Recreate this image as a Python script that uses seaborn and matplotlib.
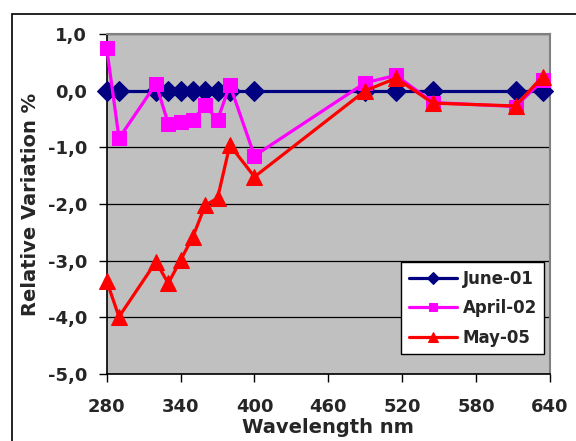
import matplotlib
matplotlib.use("Agg")
import matplotlib.pyplot as plt
import matplotlib.ticker as mticker
from matplotlib.patches import Rectangle
import seaborn as sns
import pandas as pd

# Wavelengths (nm) sampled in each campaign
wavelength = [280, 290, 320, 330, 340, 350, 360, 370, 380, 400, 490, 515, 545, 612, 634]

# Relative variation (%) with respect to the June-01 reference
june_01 = [0, 0, 0, 0, 0, 0, 0, 0, 0, 0, 0, 0, 0, 0, 0]
april_02 = [0.75, -0.84, 0.12, -0.58, -0.55, -0.52, -0.25, -0.52, 0.10, -1.15,
            0.14, 0.27, -0.21, -0.28, 0.18]
may_05 = [-3.36, -3.99, -3.02, -3.40, -2.99, -2.58, -2.02, -1.90, -0.96, -1.52,
          0.00, 0.22, -0.22, -0.27, 0.25]

series_names = ["June-01", "April-02", "May-05"]
series_values = [june_01, april_02, may_05]
colors = ["#000080", "#FF00FF", "#FF0000"]
markers = ["D", "s", "^"]
marker_sizes = [10, 10, 12]

x_ticks = [280, 340, 400, 460, 520, 580, 640]
y_ticks = [1, 0, -1, -2, -3, -4, -5]

sns.set_theme(style="white")
plt.rcParams["font.family"] = ["DejaVu Sans"]
plt.rcParams["font.weight"] = "bold"

fig = plt.figure(figsize=(5.76, 4.41), dpi=100)
ax = fig.add_axes([106.7 / 576, 1 - 374 / 441, (550 - 106.7) / 576, (374 - 34) / 441])
ax.set_facecolor("#C0C0C0")

for y in y_ticks:
    ax.axhline(y, color="black", lw=0.9, zorder=1)

for name, vals, col, mk, ms in zip(series_names, series_values, colors, markers, marker_sizes):
    df = pd.DataFrame({"Wavelength": wavelength, "Variation": vals})
    sns.lineplot(data=df, x="Wavelength", y="Variation", ax=ax, color=col,
                 marker=mk, markersize=ms, markeredgecolor=col, lw=2.3,
                 label=name, sort=False, clip_on=False, zorder=3)

ax.set_xlim(280, 640)
ax.set_ylim(-5, 1)
ax.set_xticks(x_ticks)
ax.set_yticks(y_ticks)
ax.yaxis.set_major_formatter(mticker.FuncFormatter(lambda v, p: f"{v:.1f}".replace(".", ",")))

ax.tick_params(axis="both", direction="out", length=6, width=1, color="black",
               labelsize=13, bottom=True, left=True)
ax.tick_params(axis="x", pad=11)
ax.tick_params(axis="y", pad=8)
for lab in ax.get_xticklabels() + ax.get_yticklabels():
    lab.set_fontweight("bold")

ax.set_xlabel("Wavelength nm", fontsize=14, fontweight="bold", labelpad=2)
ax.set_ylabel("Relative Variation %", fontsize=14, fontweight="bold", labelpad=6)

for side in ["left", "bottom"]:
    ax.spines[side].set_color("black")
    ax.spines[side].set_linewidth(1.2)
for side in ["top", "right"]:
    ax.spines[side].set_color("#808080")
    ax.spines[side].set_linewidth(1.5)

leg = ax.legend(loc="upper left", bbox_to_anchor=(0.664, 0.329), frameon=True,
                fancybox=False, framealpha=1, edgecolor="black", markerscale=0.6,
                handlelength=2.9, handletextpad=0.35, borderpad=0.45,
                labelspacing=0.7, borderaxespad=0,
                prop={"size": 12, "weight": "bold"})
leg.get_frame().set_linewidth(1)

# outer chart frame
fig.patches.append(Rectangle((12 / 576, -0.1), 1.2, 1.1 - 14 / 441,
                             transform=fig.transFigure, fill=False,
                             edgecolor="black", lw=1.2))

fig.savefig("out.png", dpi=100)
